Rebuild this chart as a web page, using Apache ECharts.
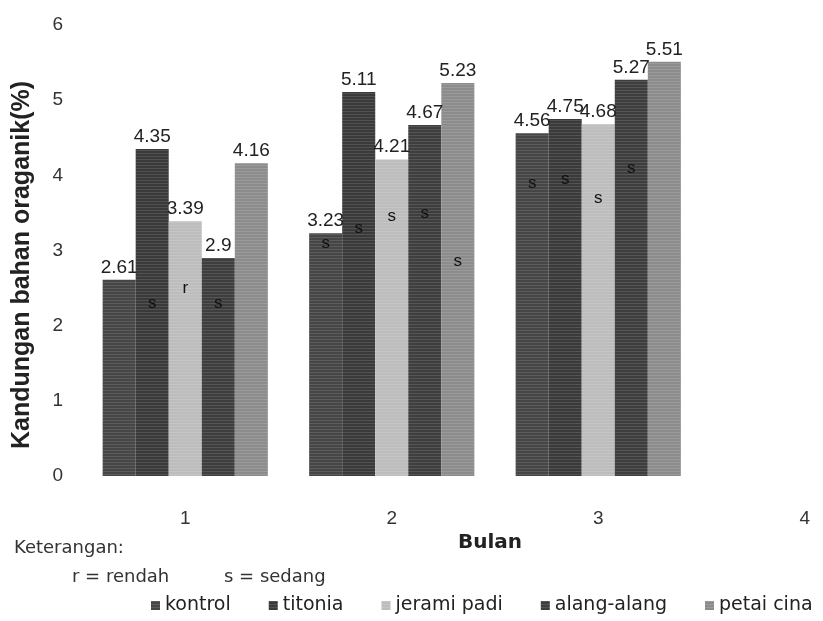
<!DOCTYPE html>
<html><head><meta charset="utf-8">
<script src="https://cdn.jsdelivr.net/npm/echarts@6/dist/echarts.min.js"></script>
<style>html,body{margin:0;padding:0;background:#fff}#c{width:823px;height:621px}</style>
</head><body><div id="c"></div>
<script>
const categories = ['1', '2', '3', '4'];
const seriesNames = ['kontrol', 'titonia', 'jerami padi', 'alang-alang', 'petai cina'];
const kontrol = [2.61, 3.23, 4.56, null];
const titonia = [4.35, 5.11, 4.75, null];
const jeramiPadi = [3.39, 4.21, 4.68, null];
const alangAlang = [2.9, 4.67, 5.27, null];
const petaiCina = [4.16, 5.23, 5.51, null];
// annotation letters inside bars: [category index, level letter, y value]
const notesKontrol = [[1, 's', 3.1], [2, 's', 3.9]];
const notesTitonia = [[0, 's', 2.3], [1, 's', 3.3], [2, 's', 3.95]];
const notesJerami = [[0, 'r', 2.5], [1, 's', 3.45], [2, 's', 3.7]];
const notesAlang = [[0, 's', 2.3], [1, 's', 3.5], [2, 's', 4.1]];
const notesPetai = [[1, 's', 2.85]];
const yTicks = [0, 1, 2, 3, 4, 5, 6];

const colors = ['#464646', '#3a3a3a', '#bdbdbd', '#3e3e3e', '#8c8c8c'];
const allData = [kontrol, titonia, jeramiPadi, alangAlang, petaiCina];
const allNotes = [notesKontrol, notesTitonia, notesJerami, notesAlang, notesPetai];
const FONT = 'Liberation Sans';
const WIDE = 'DejaVu Sans';

const chart = echarts.init(document.getElementById('c'));
chart.setOption({
  backgroundColor: '#fff',
  animation: false,
  textStyle: { fontFamily: FONT },
  grid: { left: 82, width: 826, top: 25, height: 451, containLabel: false, outerBoundsMode: 'none' },
  legend: {
    data: seriesNames,
    left: 146, top: 591,
    itemWidth: 9, itemHeight: 9, itemGap: 38,
    icon: 'rect',
    textStyle: { fontFamily: WIDE, fontSize: 19, color: '#222' }
  },
  xAxis: {
    type: 'category',
    data: categories,
    axisLine: { show: false },
    axisTick: { show: false },
    axisLabel: { margin: 33, fontSize: 19, color: '#333', fontFamily: FONT }
  },
  yAxis: {
    type: 'value',
    min: yTicks[0], max: yTicks[yTicks.length - 1], interval: 1,
    axisLine: { show: false },
    axisTick: { show: false },
    splitLine: { show: false },
    axisLabel: { margin: 19, fontSize: 19, color: '#333', fontFamily: FONT }
  },
  graphic: [
    { type: 'text', x: 22, y: 265, rotation: Math.PI / 2,
      style: { text: 'Kandungan bahan oraganik(%)', fontSize: 25, fontWeight: 'bold', fill: '#222', fontFamily: FONT, textAlign: 'center', textVerticalAlign: 'middle' } },
    { type: 'text', x: 490, y: 543,
      style: { text: 'Bulan', fontSize: 20, fontWeight: 'bold', fill: '#222', fontFamily: WIDE, textAlign: 'center', textVerticalAlign: 'middle' } },
    { type: 'text', x: 14, y: 548,
      style: { text: 'Keterangan:', fontSize: 18, fill: '#333', fontFamily: WIDE, textVerticalAlign: 'middle' } },
    { type: 'text', x: 72, y: 577,
      style: { text: 'r = rendah', fontSize: 18, fill: '#333', fontFamily: WIDE, textVerticalAlign: 'middle' } },
    { type: 'text', x: 224, y: 577,
      style: { text: 's = sedang', fontSize: 18, fill: '#333', fontFamily: WIDE, textVerticalAlign: 'middle' } }
  ],
  series: seriesNames.map((n, i) => ({
    name: n,
    type: 'bar',
    data: allData[i],
    barGap: '0%',
    barCategoryGap: '20%',
    itemStyle: {
      color: colors[i],
      decal: { symbol: 'rect', dashArrayX: [1, 0], dashArrayY: [1, 2], color: 'rgba(255,255,255,0.12)', rotation: 0 }
    },
    label: { show: true, position: 'top', distance: 3, fontSize: 19, color: '#222', fontFamily: FONT },
    markPoint: {
      symbol: 'rect', symbolSize: 1,
      itemStyle: { color: 'rgba(0,0,0,0)' },
      label: { show: true, position: 'inside', formatter: p => p.name, fontSize: 17, color: '#111', fontFamily: FONT },
      data: allNotes[i].map(a => ({ name: a[1], coord: [a[0], a[2]] }))
    }
  }))
});
</script></body></html>
